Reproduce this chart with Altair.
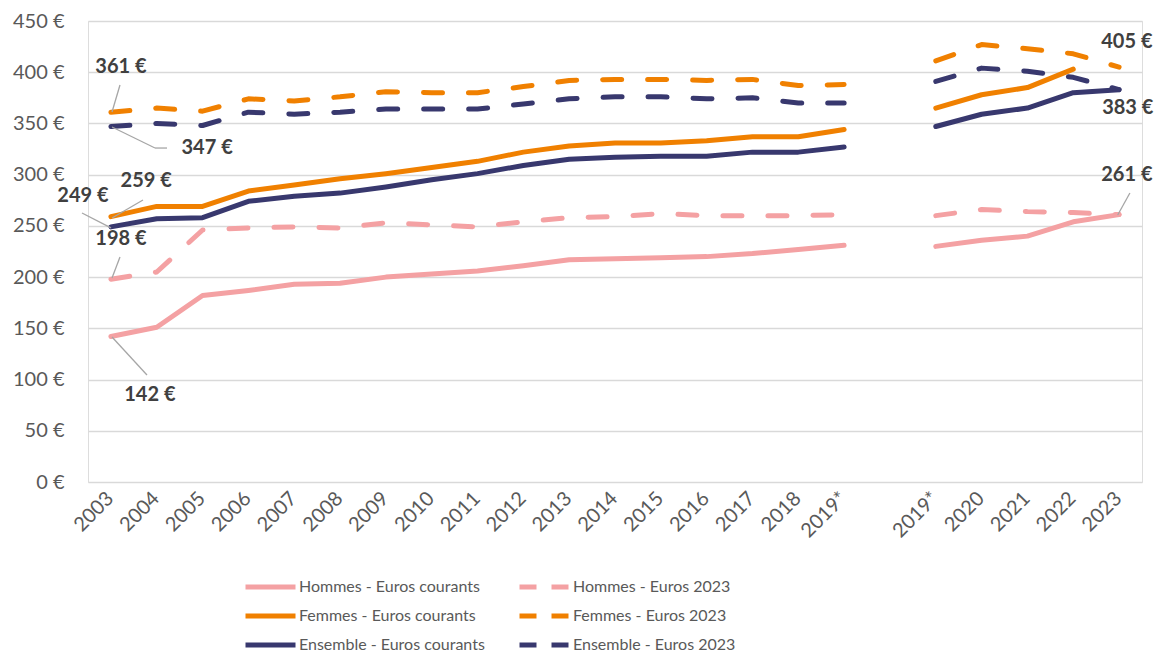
import altair as alt
import pandas as pd

# ---- data ----
categories = ["2003", "2004", "2005", "2006", "2007", "2008", "2009", "2010", "2011",
              "2012", "2013", "2014", "2015", "2016", "2017", "2018", "2019*", "",
              "2019*", "2020", "2021", "2022", "2023"]
gap_index = 17

series_courants = ["Hommes - Euros courants", "Femmes - Euros courants", "Ensemble - Euros courants"]
series_2023 = ["Hommes - Euros 2023", "Femmes - Euros 2023", "Ensemble - Euros 2023"]

hommes_courants = [142, 151, 182, 187, 193, 194, 200, 203, 206, 211, 217, 218, 219, 220, 223, 227, 231,
                   None, 230, 236, 240, 254, 261]
femmes_courants = [259, 269, 269, 284, 290, 296, 301, 307, 313, 322, 328, 331, 331, 333, 337, 337, 344,
                   None, 365, 378, 385, 403, None]
ensemble_courants = [249, 257, 258, 274, 279, 282, 288, 295, 301, 309, 315, 317, 318, 318, 322, 322, 327,
                     None, 347, 359, 365, 380, 383]
hommes_2023 = [198, 205, 246, 248, 249, 248, 253, 251, 249, 254, 258, 259, 262, 260, 260, 260, 261,
               None, 260, 266, 264, 263, 261]
femmes_2023 = [361, 365, 362, 374, 372, 376, 381, 380, 380, 386, 392, 393, 393, 392, 393, 387, 388,
               None, 411, 427, 423, 418, 405]
ensemble_2023 = [347, 350, 348, 361, 359, 361, 364, 364, 364, 369, 374, 376, 376, 374, 375, 370, 370,
                 None, 391, 404, 401, 395, 383]

colors = ["#F4A1A3", "#F08000", "#38386E"]

# annotations (label position in data units) and their leader lines
ann_text = ["361 €", "347 €", "259 €", "249 €", "198 €", "142 €", "405 €", "383 €", "261 €"]
ann_x = [0.22, 2.10, 0.77, -0.61, 0.22, 0.85, 22.17, 22.19, 22.17]
ann_y = [405, 326, 293.8, 279, 237, 85, 429.5, 365, 299.7]

lead_x = [0.198, 0.024, 0.962, 0.70, -0.631, 0.198, 0.024, 22.236]
lead_y = [387.5, 346.5, 326.0, 275.3, 262.6, 219.6, 141.5, 282.1]
lead_x2 = [0.024, 0.962, 1.224, 0.024, 0.002, 0.024, 0.787, 21.97]
lead_y2 = [361.2, 326.0, 326.0, 257.7, 248.0, 199.1, 104.5, 260.6]

# ---- build tables ----
def long_table(names, arrays):
    rows = []
    for name, arr in zip(names, arrays):
        for i, v in enumerate(arr):
            if v is None:
                continue
            rows.append({"idx": i, "value": v, "serie": name,
                         "seg": name + ("-a" if i < gap_index else "-b")})
    return pd.DataFrame(rows)

df_cour = long_table(series_courants, [hommes_courants, femmes_courants, ensemble_courants])
df_2023 = long_table(series_2023, [hommes_2023, femmes_2023, ensemble_2023])
df_ann = pd.DataFrame({"x": ann_x, "y": ann_y, "text": ann_text})
df_lead = pd.DataFrame({"x": lead_x, "y": lead_y, "x2": lead_x2, "y2": lead_y2})

label_array = "[" + ",".join("'" + c + "'" for c in categories) + "]"
tick_values = [i for i in range(len(categories)) if i != gap_index]

x_scale = alt.Scale(domain=[-0.5, len(categories) - 0.5], nice=False, zero=False)
y_scale = alt.Scale(domain=[0, 450], nice=False)

x_enc = alt.X("idx:Q", scale=x_scale, title=None,
              axis=alt.Axis(values=tick_values, labelExpr=label_array + "[datum.value]",
                            labelAngle=-45, labelAlign="right", labelBaseline="top",
                            labelOffset=-8, labelOverlap=False, grid=False, domain=False,
                            ticks=False, labelPadding=6, labelFontSize=20, labelColor="#595959",
                            labelFont="Lato"))
y_enc = alt.Y("value:Q", scale=y_scale, title=None,
              axis=alt.Axis(values=list(range(0, 451, 50)), labelExpr="datum.value + ' €'",
                            domain=False, ticks=False, labelPadding=24, labelFontSize=20,
                            labelColor="#595959", labelFont="Lato",
                            gridColor="#D9D9D9", gridWidth=1.5))

legend_common = dict(orient="none", direction="vertical", title=None, symbolType="stroke",
                     symbolSize=2500, symbolStrokeWidth=5, clipHeight=22, rowPadding=7,
                     labelOffset=1, padding=0, labelFont="Lato", labelFontSize=16,
                     labelLimit=400, labelColor="#595959", legendY=555)

solid = alt.Chart(df_cour).mark_line(strokeWidth=5, strokeCap="round", strokeJoin="round").encode(
    x=x_enc, y=y_enc,
    color=alt.Color("serie:N", scale=alt.Scale(domain=series_courants, range=colors),
                    legend=alt.Legend(legendX=155, **legend_common)),
    detail="seg:N",
)

dashed = alt.Chart(df_2023).mark_line(strokeWidth=5, strokeCap="round", strokeJoin="round",
                                      strokeDash=[19, 26]).encode(
    x=alt.X("idx:Q", scale=x_scale), y=alt.Y("value:Q", scale=y_scale),
    color=alt.Color("serie:N", scale=alt.Scale(domain=series_2023, range=colors),
                    legend=alt.Legend(legendX=429, symbolDash=[17, 15], **legend_common)),
    detail="seg:N",
)

leaders = alt.Chart(df_lead).mark_rule(color="#A6A6A6", strokeWidth=1.3).encode(
    x=alt.X("x:Q", scale=x_scale), y=alt.Y("y:Q", scale=y_scale),
    x2="x2:Q", y2="y2:Q",
)

labels = alt.Chart(df_ann).mark_text(font="Lato", fontWeight="bold", fontSize=20,
                                     color="#404040", align="center", baseline="middle").encode(
    x=alt.X("x:Q", scale=x_scale), y=alt.Y("y:Q", scale=y_scale), text="text:N",
)

chart = alt.layer(solid, dashed, leaders, labels).resolve_scale(color="independent").properties(
    width=1054, height=461,
    autosize=alt.AutoSizeParams(type="none"),
    padding={"left": 80, "top": 13, "right": 13, "bottom": 170},
).configure_view(stroke="transparent", strokeWidth=0).configure(background="white")

chart.save("out.html", embed_options={"renderer": "svg", "actions": False})
